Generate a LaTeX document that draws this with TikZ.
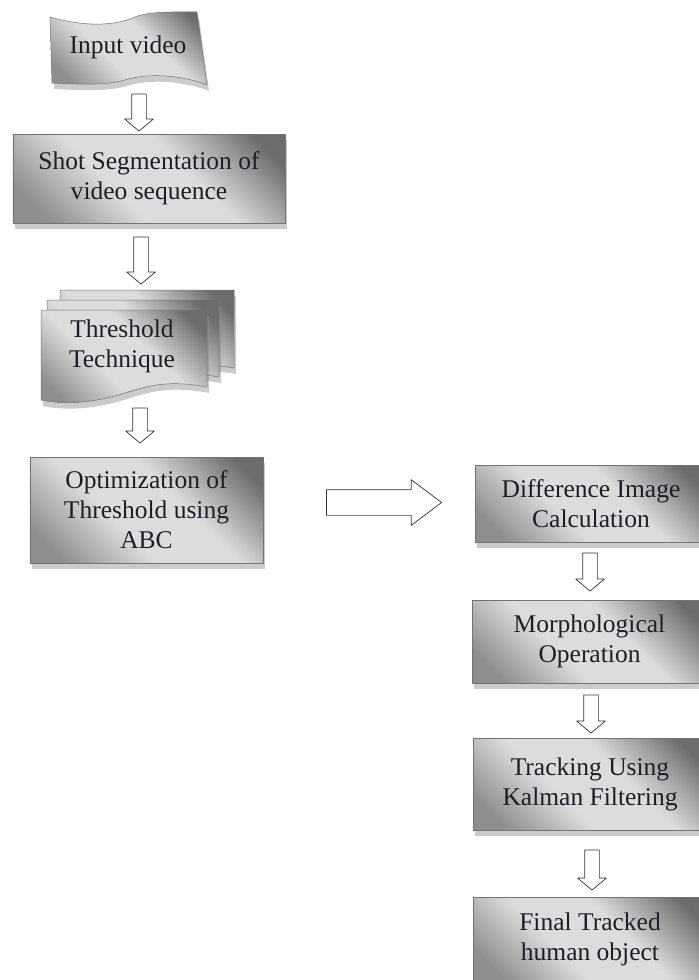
\documentclass[tikz,border=0pt]{standalone}
\usepackage{fontspec}
\setmainfont{Liberation Serif}
\usetikzlibrary{shapes.arrows,shadows}
\definecolor{shdark}{HTML}{6C6C6C}
\definecolor{shlight}{HTML}{DCDCDC}
\definecolor{shlow}{HTML}{8E8E8E}
\definecolor{inktext}{HTML}{1E1E28}
\pgfdeclareverticalshading{boxshade}{100bp}{color(0bp)=(shlow); color(22bp)=(shlow); color(41bp)=(shlight); color(59bp)=(shlight); color(79bp)=(shdark); color(100bp)=(shdark)}
\newcommand{\flowfont}{\fontsize{25.6}{30.1}\selectfont}
\tikzset{
  greyshade/.style={shading=boxshade, shading angle=-45},
  boxshadow/.style={drop shadow={shadow xshift=2bp, shadow yshift=-6bp, opacity=0.45, fill=black!45}},
  procbox/.style={rectangle, draw=black!55, line width=0.5bp, greyshade, boxshadow, text=inktext, font=\flowfont, align=center, inner sep=0pt},
  flowtext/.style={text=inktext, font=\flowfont, align=center, inner sep=0pt},
  downarr/.style={single arrow, draw=black!80, fill=white, line width=0.7bp, rotate=-90, minimum height=#1, inner sep=7bp, single arrow head extend=7bp, single arrow head indent=0pt, single arrow tip angle=100},
  rightarr/.style={single arrow, draw=black!80, fill=white, line width=0.7bp, minimum height=#1, inner sep=12.5bp, single arrow head extend=10bp, single arrow head indent=0pt, single arrow tip angle=74}
}
\begin{document}
\begin{tikzpicture}[x=1bp, y=-1bp, line join=round]
  \useasboundingbox (0,0) rectangle (699,980);
  \clip (0,0) rectangle (699,980);

  % input tape
  \shade[greyshade, draw=black!55, line width=0.5bp, boxshadow] (50,17) .. controls (85,27) and (115,26) .. (135,17) .. controls (150,11) and (175,12) .. (197,12) -- (207,85) .. controls (185,76) and (150,72) .. (125,80) .. controls (105,86) and (75,84) .. (52,83) -- cycle;
  \node[flowtext] (inp) at (128,47) {Input video};

  \node[downarr=37bp] (a1) at (139,109.5) {};
  \node[procbox, minimum width=272bp, minimum height=89bp] (shot) at (149,178.5) {Shot Segmentation of\\video sequence};
  \node[downarr=47bp] (a2) at (141,257.5) {};

  % stacked pages, back to front
  \shade[greyshade, draw=black!55, line width=0.5bp, boxshadow] (60,290) -- (234,290) -- (234,368) .. controls (200,362) and (175,367) .. (150,375) .. controls (125,383) and (95,387) .. (60,381) -- cycle;
  \shade[greyshade, draw=black!55, line width=0.5bp, boxshadow] (47,300) -- (219,300) -- (219,377) .. controls (185,371) and (160,376) .. (135,384) .. controls (110,392) and (80,396) .. (47,390) -- cycle;
  \shade[greyshade, draw=black!55, line width=0.5bp, boxshadow] (41,310) -- (207,310) -- (207,387) .. controls (170,380) and (150,385) .. (125,393) .. controls (100,401) and (70,406) .. (41,400) -- cycle;
  \node[flowtext] (thr) at (122,346) {Threshold\\Technique};

  \node[downarr=35bp] (a3) at (140,422.5) {};
  \node[procbox, minimum width=233bp, minimum height=106bp] (opt) at (146.5,510) {Optimization of\\Threshold using\\ABC};

  \node[rightarr=115bp] (a4) at (375.5,502.5) {};

  \node[procbox, minimum width=232bp, minimum height=77bp] (diff) at (591,503.5) {Difference Image\\Calculation};
  \node[downarr=38bp] (a5) at (590,569) {};
  \node[procbox, minimum width=235bp, minimum height=83bp] (morph) at (589.5,641.5) {Morphological\\Operation};
  \node[downarr=38bp] (a6) at (591,711) {};
  \node[procbox, minimum width=234bp, minimum height=92bp] (track) at (590,784) {Tracking Using\\Kalman Filtering};
  \node[downarr=40bp] (a7) at (592,867) {};
  \node[procbox, minimum width=234bp, minimum height=85bp] (final) at (590,939.5) {Final Tracked\\human object};
\end{tikzpicture}
\end{document}
